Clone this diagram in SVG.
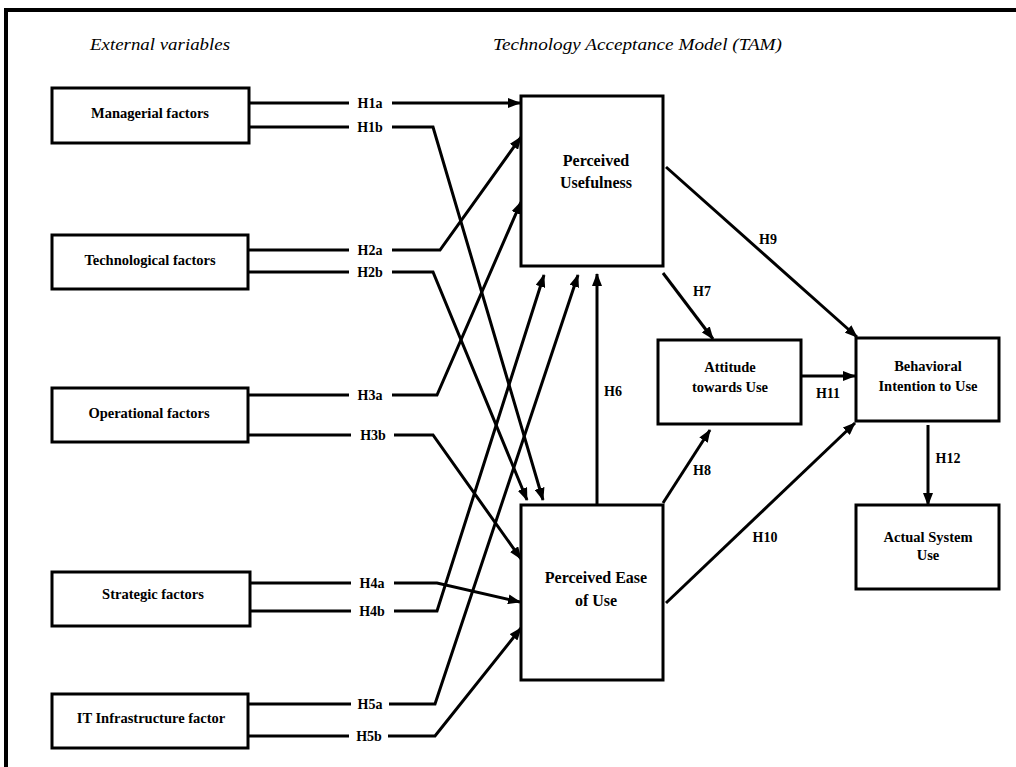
<svg xmlns="http://www.w3.org/2000/svg" width="1016" height="767" viewBox="0 0 1016 767">
<style>
.box{fill:#fff;stroke:#000;stroke-width:3}
.frame{stroke:#000;stroke-width:4;fill:none}
.edge{fill:none;stroke:#000;stroke-width:3;marker-end:url(#ah)}
.line{fill:none;stroke:#000;stroke-width:3}
text{font-family:"Liberation Serif","Times New Roman",serif;fill:#000}
.lt{font-size:14.5px;font-weight:bold;text-anchor:middle}
.bt{font-size:16px;font-weight:bold;text-anchor:middle}
.rt{font-size:14.5px;font-weight:bold;text-anchor:middle}
.lbl{font-size:14px;font-weight:bold;text-anchor:middle}
.hdr{font-size:17px;font-style:italic}
</style>
<defs>
<marker id="ah" markerUnits="userSpaceOnUse" markerWidth="13" markerHeight="10" refX="12" refY="5" orient="auto">
<path d="M0,0 L13,5 L0,10 z" fill="#000"/>
</marker>
</defs>
<rect width="1016" height="767" fill="#fff"/>
<g id="frame">
<path class="frame" d="M4,10 H1016 M6,8 V767"/>
</g>
<g id="headers">
<text class="hdr" x="90" y="50" textLength="140" lengthAdjust="spacingAndGlyphs">External variables</text>
<text class="hdr" x="493" y="50" textLength="289" lengthAdjust="spacingAndGlyphs">Technology Acceptance Model (TAM)</text>
</g>
<g id="connectors">
<path class="edge" d="M249,103 H349 M392,103 H520"/>
<path class="edge" d="M249,127 H349 M392,127 H433 L543,500"/>
<path class="edge" d="M248,250 H349 M392,250 H440 L521,137"/>
<path class="edge" d="M248,272 H349 M392,272 H433 L527,500"/>
<path class="edge" d="M248,395 H349 M392,395 H437 L521,202"/>
<path class="edge" d="M248,435 H351 M394,435 H433 L521,559"/>
<path class="edge" d="M250,583 H351 M394,583 H437 L520,602"/>
<path class="edge" d="M250,611 H351 M394,611 H437 L544,275"/>
<path class="edge" d="M248,704 H351 M389,704 H435 L578,275"/>
<path class="edge" d="M248,736 H349 M388,736 H435 L521,628"/>
<path class="edge" d="M597,505 V274"/>
<path class="edge" d="M663,273 L713,339"/>
<path class="edge" d="M663,503 L710,430"/>
<path class="edge" d="M666,167 L857,337"/>
<path class="edge" d="M666,603 L855,423"/>
<path class="edge" d="M801,376 H855"/>
<path class="edge" d="M928,425 V505"/>
<text class="lbl" x="370" y="108">H1a</text>
<text class="lbl" x="370" y="132">H1b</text>
<text class="lbl" x="370" y="255">H2a</text>
<text class="lbl" x="370" y="277">H2b</text>
<text class="lbl" x="370" y="400">H3a</text>
<text class="lbl" x="373" y="440">H3b</text>
<text class="lbl" x="372" y="588">H4a</text>
<text class="lbl" x="372" y="616">H4b</text>
<text class="lbl" x="370" y="709">H5a</text>
<text class="lbl" x="369" y="741">H5b</text>
<text class="lbl" x="613" y="396">H6</text>
<text class="lbl" x="702" y="296">H7</text>
<text class="lbl" x="702" y="475">H8</text>
<text class="lbl" x="768" y="244">H9</text>
<text class="lbl" x="765" y="542">H10</text>
<text class="lbl" x="828" y="398">H11</text>
<text class="lbl" x="948" y="463">H12</text>
</g>
<g id="managerial">
<rect class="box" x="52" y="88" width="197" height="55"/>
<text class="lt" x="150" y="118">Managerial factors</text>
</g>
<g id="technological">
<rect class="box" x="52" y="235" width="196" height="54"/>
<text class="lt" x="150" y="265">Technological factors</text>
</g>
<g id="operational">
<rect class="box" x="52" y="388" width="196" height="54"/>
<text class="lt" x="149" y="418">Operational factors</text>
</g>
<g id="strategic">
<rect class="box" x="52" y="572" width="198" height="54"/>
<text class="lt" x="153" y="599">Strategic factors</text>
</g>
<g id="it-infrastructure">
<rect class="box" x="52" y="694" width="196" height="54"/>
<text class="lt" x="151" y="723">IT Infrastructure factor</text>
</g>
<g id="perceived-usefulness">
<rect class="box" x="521" y="96" width="142" height="170"/>
<text class="bt" x="596" y="166">Perceived</text>
<text class="bt" x="596" y="188">Usefulness</text>
</g>
<g id="perceived-ease">
<rect class="box" x="521" y="505" width="142" height="175"/>
<text class="bt" x="596" y="583">Perceived Ease</text>
<text class="bt" x="596" y="606">of Use</text>
</g>
<g id="attitude">
<rect class="box" x="658" y="340" width="143" height="84"/>
<text class="rt" x="730" y="372">Attitude</text>
<text class="rt" x="730" y="392">towards Use</text>
</g>
<g id="behavioral-intention">
<rect class="box" x="856" y="338" width="143" height="83"/>
<text class="rt" x="928" y="371">Behavioral</text>
<text class="rt" x="928" y="391">Intention to Use</text>
</g>
<g id="actual-use">
<rect class="box" x="856" y="505" width="143" height="84"/>
<text class="rt" x="928" y="542">Actual System</text>
<text class="rt" x="928" y="560">Use</text>
</g>
</svg>
